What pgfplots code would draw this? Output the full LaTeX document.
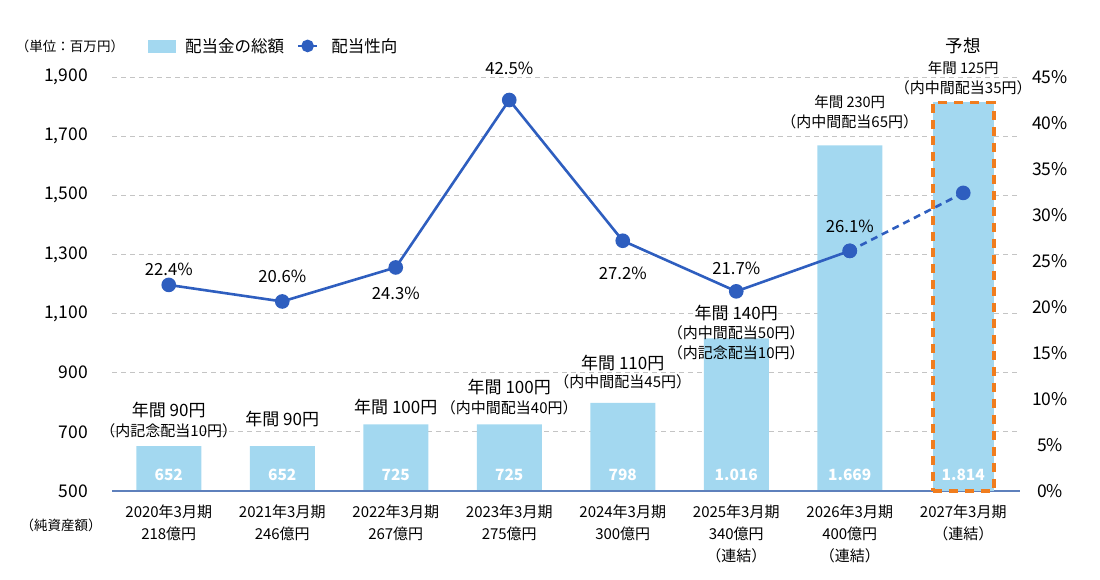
\documentclass[border=0pt]{standalone}
\usepackage{pgfplots}
\pgfplotsset{compat=1.18}
\usepackage{fontspec}
\setmainfont{Noto Sans CJK JP}

\definecolor{barblue}{HTML}{A3D8F0}
\definecolor{lineblue}{HTML}{2E5EBF}
\definecolor{fcorange}{HTML}{F07D1E}
\definecolor{gridgray}{HTML}{C4C4C4}
\definecolor{baseblue}{HTML}{5E80BC}

\newcommand{\fsz}[1]{\fontsize{#1pt}{#1pt}\selectfont}

\begin{document}
\begin{tikzpicture}

% total dividend (million yen), left scale
\begin{axis}[
  at={(112pt,89pt)}, anchor=south west,
  scale only axis, width=908pt, height=414pt,
  xmin=-0.5, xmax=7.5, ymin=500, ymax=1900,
  axis line style={draw=none},
  major tick length=0pt,
  ytick={500,700,...,1900},
  yticklabels={500,700,900,{1,100},{1,300},{1,500},{1,700},{1,900}},
  yticklabel style={font=\fsz{17.5}, anchor=east, inner sep=0pt, xshift=-24pt},
  ymajorgrids,
  grid style={gridgray, line width=0.9pt, dash pattern=on 5pt off 4pt},
  xtick={0,...,7},
  xticklabels={
    {2020年3月期\\218億円},
    {2021年3月期\\246億円},
    {2022年3月期\\267億円},
    {2023年3月期\\275億円},
    {2024年3月期\\300億円},
    {2025年3月期\\340億円\\（連結）},
    {2026年3月期\\400億円\\（連結）},
    {2027年3月期\\（連結）}},
  xticklabel style={font=\fontsize{15pt}{22pt}\selectfont, align=center,
    anchor=north, inner sep=0pt, yshift=-14pt},
  clip=false,
]
\addplot[ybar, bar width=65pt, bar shift=0pt, fill=barblue, draw=none]
  coordinates {(0,652) (1,652) (2,725) (3,725) (4,798) (5,1016) (6,1669)};
\draw[baseblue, line width=1.6pt] (rel axis cs:0,0) -- (rel axis cs:1,0);
% forecast year: dashed outline
\addplot[ybar, bar width=61pt, bar shift=0pt, fill=barblue, draw=fcorange,
  line width=3.5pt, dash pattern=on 9pt off 7pt]
  coordinates {(7,1814)};
% value labels set inside the foot of each bar
\addplot[draw=none, mark=none, nodes near coords, point meta=explicit symbolic,
  every node near coord/.style={anchor=center, yshift=16pt, text=white,
    font=\fsz{15.5}\bfseries}]
  coordinates {(0,500) [652] (1,500) [652] (2,500) [725] (3,500) [725]
               (4,500) [798] (5,500) [1.016] (6,500) [1.669] (7,500) [1.814]};
\end{axis}

% payout ratio (%), right scale
\begin{axis}[
  at={(112pt,89pt)}, anchor=south west,
  scale only axis, width=908pt, height=414pt,
  xmin=-0.5, xmax=7.5, ymin=0, ymax=45,
  axis x line=none, axis y line*=right, axis line style={draw=none},
  major tick length=0pt,
  ytick={0,5,...,45},
  yticklabels={0\%,5\%,10\%,15\%,20\%,25\%,30\%,35\%,40\%,45\%},
  yticklabel style={font=\fsz{17.5}, anchor=center, inner sep=0pt, xshift=30pt},
  clip=false,
  legend columns=2,
  legend style={at={(0.039,1.075)}, anchor=west, draw=none, fill=none,
    font=\fsz{16.5}, inner xsep=0pt, inner ysep=0pt,
    /tikz/every even column/.append style={column sep=11pt}},
]
\addlegendimage{legend image code/.code={\fill[barblue] (0pt,-6pt) rectangle (27pt,6pt);
  \path (35pt,0pt);}}
\addlegendentry{配当金の総額}
\addplot[lineblue, line width=2.6pt, mark=*, mark size=6pt,
  legend image code/.code={\draw[lineblue, line width=2.2pt] (0pt,0pt) -- (19pt,0pt);
    \fill[lineblue] (9.5pt,0pt) circle (5pt); \path (30pt,0pt);}]
  coordinates {(0,22.4) (1,20.6) (2,24.3) (3,42.5) (4,27.2) (5,21.7) (6,26.1)};
\addlegendentry{配当性向}
\addplot[forget plot, lineblue, line width=2.6pt, dash pattern=on 7pt off 5pt,
  mark=*, mark size=6pt, mark options={solid}]
  coordinates {(6,26.1) (7,32.4)};

% payout ratio labels
\begin{scope}[every node/.style={font=\fsz{16.7}, inner sep=0pt}]
\node at (axis cs:0,24.13) {22.4\%};
\node at (axis cs:1,23.37) {20.6\%};
\node at (axis cs:2,21.52) {24.3\%};
\node at (axis cs:3,45.98) {42.5\%};
\node at (axis cs:4,23.70) {27.2\%};
\node at (axis cs:5,24.24) {21.7\%};
\node at (axis cs:6,28.81) {26.1\%};
\end{scope}

% annual dividend per share notes
\begin{scope}[every node/.style={inner sep=0pt}]
\node[font=\fsz{17}] at (axis cs:0,8.80) {年間 90円};
\node[font=\fsz{15}] at (axis cs:0,6.52) {（内記念配当10円）};
\node[font=\fsz{17}] at (axis cs:1,7.83) {年間 90円};
\node[font=\fsz{17}] at (axis cs:2,9.13) {年間 100円};
\node[font=\fsz{17}] at (axis cs:3,11.30) {年間 100円};
\node[font=\fsz{15}] at (axis cs:3,9.02) {（内中間配当40円）};
\node[font=\fsz{17}] at (axis cs:4,13.91) {年間 110円};
\node[font=\fsz{15}] at (axis cs:4,11.85) {（内中間配当45円）};
\node[font=\fsz{17}] at (axis cs:5,19.35) {年間 140円};
\node[font=\fsz{15}] at (axis cs:5,17.17) {（内中間配当50円）};
\node[font=\fsz{15}] at (axis cs:5,15.00) {（内記念配当10円）};
\node[font=\fsz{14.5}] at (axis cs:6,42.28) {年間 230円};
\node[font=\fsz{15}] at (axis cs:6,40.11) {（内中間配当65円）};
\node[font=\fsz{17.5}] at (axis cs:7,48.37) {予想};
\node[font=\fsz{14.5}] at (axis cs:7,45.98) {年間 125円};
\node[font=\fsz{15}] at (axis cs:7,43.81) {（内中間配当35円）};
\end{scope}
\end{axis}

\node[font=\fsz{13.5}, inner sep=0pt] at (70pt,534pt) {（単位：百万円）};
\node[font=\fsz{13.5}, inner sep=0pt] at (61pt,55pt) {（純資産額）};

\pgfresetboundingbox
\path[use as bounding box] (0pt,0pt) rectangle (1100pt,580pt);
\end{tikzpicture}
\end{document}
